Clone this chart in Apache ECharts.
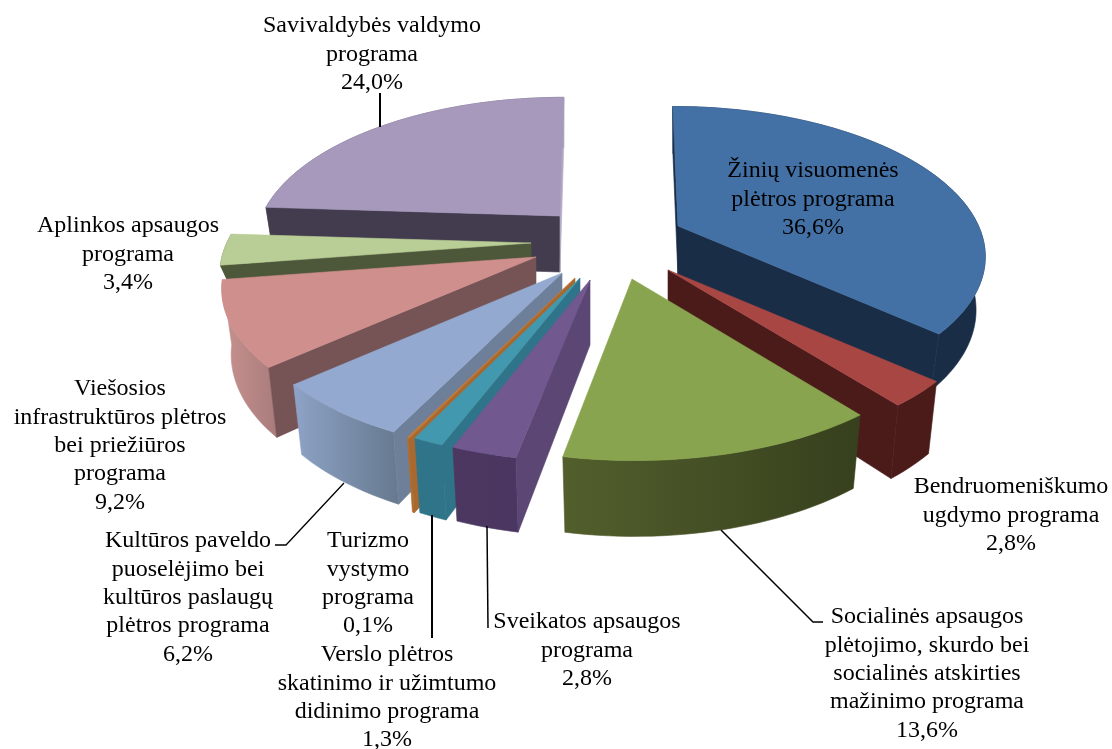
<!DOCTYPE html>
<html>
<head>
<meta charset="utf-8">
<style>
html, body { margin: 0; padding: 0; background: #fff; }
#chart { width: 1112px; height: 749px; }
</style>
<script src="https://cdn.jsdelivr.net/npm/echarts@6/dist/echarts.min.js"></script>
</head>
<body>
<div id="chart"></div>
<script>
// clockwise from twelve o'clock
var sliceLabels = [
    ['Žinių visuomenės', 'plėtros programa'],
    ['Bendruomeniškumo', 'ugdymo programa'],
    ['Socialinės apsaugos', 'plėtojimo, skurdo bei', 'socialinės atskirties', 'mažinimo programa'],
    ['Sveikatos apsaugos', 'programa'],
    ['Verslo plėtros', 'skatinimo ir užimtumo', 'didinimo programa'],
    ['Turizmo', 'vystymo', 'programa'],
    ['Kultūros paveldo', 'puoselėjimo bei', 'kultūros paslaugų', 'plėtros programa'],
    ['Viešosios', 'infrastruktūros plėtros', 'bei priežiūros', 'programa'],
    ['Aplinkos apsaugos', 'programa'],
    ['Savivaldybės valdymo', 'programa']
];
var sliceValues = [36.6, 2.8, 13.6, 2.8, 1.3, 0.1, 6.2, 9.2, 3.4, 24.0];

// layout and style, one entry per slice
var apexes = [[678, 226], [668, 270], [632, 279], [590, 280], [580, 278], [575, 278], [562, 273], [536, 257], [531, 243], [560, 216]];
var wallHeights = [52, 66, 66, 65, 66, 66, 64, 64, 20, 56];
var topColors = ['#4371a6', '#a84644', '#88a44e', '#71588f', '#4198af', '#c47a38', '#93a9cf', '#cf8f8d', '#b9cd96', '#a699bc'];
var radialColors = ['#1a2d46', '#4a1b19', '#4a1b19', '#5b4674', '#2f7488', '#a8682e', '#6e7f9a', '#765355', '#4d5739', '#423c4e'];
var arcColors = [
    ['#1a2d46', '#1a2d46'], ['#4a1b19', '#4a1b19'], ['#525f2c', '#36401d'], ['#4c3761', '#4a3660'], ['#2f7488', '#2f7488'],
    ['#b06c2e', '#b06c2e'], ['#8ea3c6', '#66798f'], ['#c8928f', '#a87c7b'], ['#6f7d50', '#6f7d50'], ['#6e6480', '#6e6480']
];
var endWallLight = { 9: '#b5abc6' };
var labelPos = [[813, 171], [1011, 487], [927, 617], [587, 622], [387, 655], [368, 541], [188, 541], [120, 389], [128, 226], [372, 26]];
var leaderLines = [
    { points: [[380, 93], [380, 127]], width: 2 },
    { points: [[275, 545], [286, 545], [344, 483]], width: 1.3 },
    { points: [[432, 515], [432, 638]], width: 2 },
    { points: [[487, 526], [488, 628]], width: 1.5 },
    { points: [[721, 530], [813, 622], [823, 622]], width: 1.5 }
];
var drawOrder = [9, 0, 8, 7, 6, 5, 4, 3, 1, 2];

var lineHeight = 28.4;
var labelFont = '24px "Liberation Serif"';
var radiusX = 309, radiusY = 146, perspective = 0.188;
var wallShrink = 0.97, vanishX = 610;
// slices pushed further back come out a little smaller
var depthRowY = 265, depthScale = 0.0007;

var total = sliceValues.reduce(function (a, b) { return a + b; }, 0);
var startAngles = [];
var cumulative = 0;
sliceValues.forEach(function (v) {
    startAngles.push(cumulative);
    cumulative += v;
});

function toAngle(v) {
    return echarts.number.linearMap(v, [0, total], [0, Math.PI * 2]);
}

// top and bottom rim position for one angle of one slice
function rimPoint(i, angle, bottom) {
    var apex = apexes[i];
    var v = Math.cos(angle);
    var s = 1 / (1 + perspective * v);
    var depth = 1 + (apex[1] - depthRowY) * depthScale;
    var dx = (radiusX * Math.sin(angle) * s + (apex[0] - vanishX) * (s - 1) * 0.5) * depth;
    var dy = -radiusY * v * s * depth;
    if (bottom) {
        return [apex[0] + dx * wallShrink, apex[1] + dy * wallShrink + wallHeights[i] * s];
    }
    return [apex[0] + dx, apex[1] + dy];
}

function polygon(points, fill) {
    return {
        type: 'polygon',
        shape: { points: points },
        style: { fill: fill, stroke: fill, lineWidth: 0.6 }
    };
}

// the side wall shows only when the top face lies above that edge
function edgeVisible(apex, rim, inner) {
    var ex = rim[0] - apex[0], ey = rim[1] - apex[1];
    var cross = ex * (inner[1] - apex[1]) - ey * (inner[0] - apex[0]);
    return ex >= 0 ? cross < 0 : cross > 0;
}

function renderSlice(params, api) {
    var i = api.value(0);
    var apex = apexes[i];
    var a0 = toAngle(startAngles[i]);
    var a1 = toAngle(startAngles[i] + sliceValues[i]);
    var n = Math.max(2, Math.ceil((a1 - a0) / 0.03));
    var topArc = [], bottomArc = [];
    for (var k = 0; k <= n; k++) {
        var a = a0 + (a1 - a0) * k / n;
        topArc.push(rimPoint(i, a, false));
        bottomArc.push(rimPoint(i, a, true));
    }
    var apexBottom = [apex[0], apex[1] + wallHeights[i]];
    var inner = rimPoint(i, (a0 + a1) / 2, false);
    var children = [];

    var arcFill = new echarts.graphic.LinearGradient(0, 0, 1, 0, [
        { offset: 0, color: arcColors[i][0] },
        { offset: 1, color: arcColors[i][1] }
    ]);
    children.push(polygon(topArc.concat(bottomArc.slice().reverse()), arcFill));

    var first = topArc[0], last = topArc[n];
    if (edgeVisible(apex, first, inner)) {
        children.push(polygon([apex, first, bottomArc[0], apexBottom], radialColors[i]));
    }
    if (edgeVisible(apex, last, inner)) {
        children.push(polygon([apex, last, bottomArc[n], apexBottom], endWallLight[i] || radialColors[i]));
    }
    children.push(polygon([apex].concat(topArc), topColors[i]));
    return { type: 'group', children: children };
}

function percentText(v) {
    return v.toFixed(1).replace('.', ',') + '%';
}

var graphics = [];
leaderLines.forEach(function (line) {
    graphics.push({
        type: 'polyline',
        z: 20,
        shape: { points: line.points },
        style: { stroke: '#000', lineWidth: line.width, fill: null }
    });
});
sliceLabels.forEach(function (lines, i) {
    lines.concat(percentText(sliceValues[i])).forEach(function (line, k) {
        graphics.push({
            type: 'text',
            z: 30,
            x: labelPos[i][0],
            y: labelPos[i][1] + k * lineHeight,
            style: { text: line, font: labelFont, fill: '#000', align: 'center', verticalAlign: 'middle' }
        });
    });
});

var myChart = echarts.init(document.getElementById('chart'));
myChart.setOption({
    animation: false,
    backgroundColor: '#fff',
    graphic: graphics,
    series: [{
        type: 'custom',
        coordinateSystem: 'none',
        silent: true,
        renderItem: renderSlice,
        data: drawOrder.map(function (i) { return [i]; })
    }]
});
</script>
</body>
</html>
